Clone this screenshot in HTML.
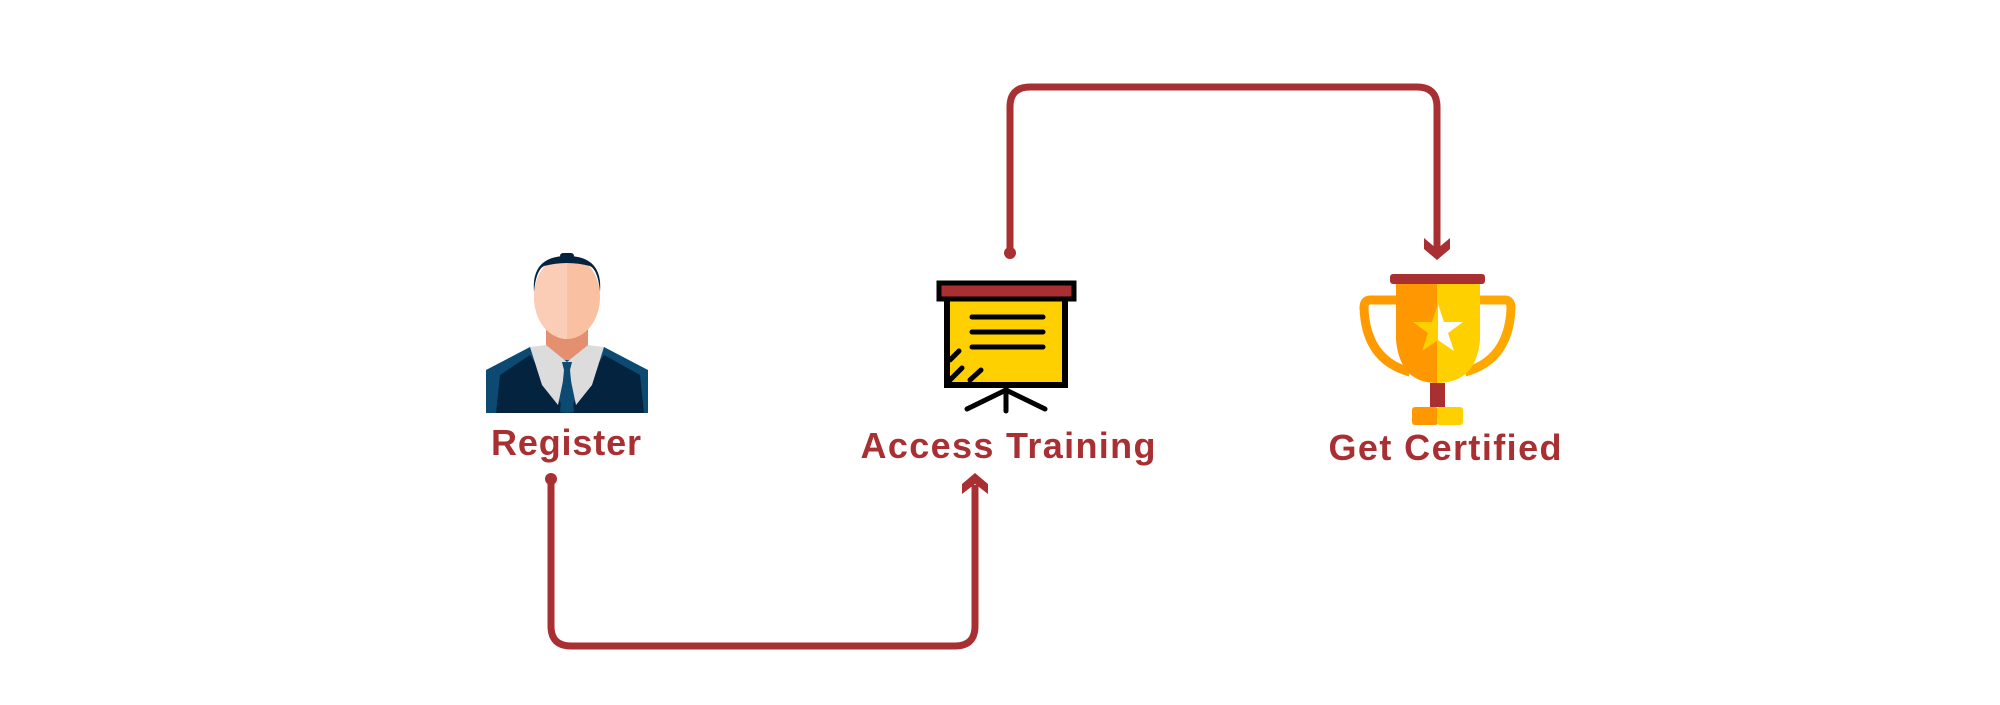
<!DOCTYPE html>
<html><head><style>
body{margin:0;width:2000px;height:700px;background:#fff;overflow:hidden}
svg text{font-family:"Liberation Sans",sans-serif;font-weight:bold;fill:#a83033}
</style></head><body>
<svg width="2000" height="700" viewBox="0 0 2000 700">
<g fill="none" stroke="#a83033" stroke-width="7">
<path d="M551 479 V626 Q551 646 571 646 H955 Q975 646 975 626 V485"/>
<path d="M1010 253 V107 Q1010 87 1030 87 H1417 Q1437 87 1437 107 V250"/>
</g>
<g fill="#a83033">
<circle cx="551" cy="479" r="6"/>
<circle cx="1010" cy="253" r="6"/>
<polygon points="975,473 988,484 988,494 975,484 962,494 962,484"/>
<polygon points="1437,260 1450,249 1450,238 1437,249 1424,238 1424,249"/>
</g>
<!-- person -->
<g>
<path d="M486 413 V370 L530 347 L604 347 L648 370 V413 Z" fill="#0d4a72"/>
<path d="M496 413 L500 375 L530 355 L567 413 L604 355 L640 375 L644 413 Z" fill="#04233f"/>
<rect x="546" y="325" width="42" height="35" fill="#e38f70"/>
<polygon points="530,347 546,345 567,362 558,405 542,385" fill="#dcdcdc"/>
<polygon points="604,347 588,345 567,362 576,405 592,385" fill="#dcdcdc"/>
<polygon points="562,362 572,362 570,370 574,412 567,413 560,412 564,370" fill="#0d4a72"/>
<ellipse cx="567" cy="297" rx="33" ry="42" fill="#f9c0a2"/>
<path d="M567 255 V339 A33 42 0 0 1 567 255" fill="#fbcdb6"/>
<path d="M534 292 Q531 256 567 256 Q603 256 600 292 Q598 270 590 266 Q567 260 544 266 Q536 270 534 292Z" fill="#04233f"/>
<rect x="560" y="253" width="14" height="6" rx="3" fill="#04233f"/>
</g>
<!-- board -->
<g>
<rect x="947" y="297" width="118" height="88" fill="#ffd000" stroke="#000" stroke-width="6"/>
<rect x="939" y="283" width="135" height="16" fill="#a83033" stroke="#000" stroke-width="5"/>
<g stroke="#000" stroke-width="5" stroke-linecap="round">
<line x1="972" y1="317" x2="1043" y2="317"/><line x1="972" y1="332" x2="1043" y2="332"/><line x1="972" y1="347" x2="1043" y2="347"/>
<line x1="950" y1="360" x2="959" y2="351"/><line x1="950" y1="380" x2="962" y2="368"/><line x1="970" y1="380" x2="981" y2="370"/>
<line x1="1006" y1="385" x2="1006" y2="411"/><line x1="967" y1="409" x2="1006" y2="390"/><line x1="1045" y1="409" x2="1006" y2="390"/>
</g>
</g>
<!-- trophy -->
<g>
<path d="M1400 300 H1370 Q1364 300 1364 308 Q1366 360 1410 372" fill="none" stroke="#ff9b00" stroke-width="9"/>
<path d="M1475 300 H1505 Q1511 300 1511 308 Q1509 360 1465 372" fill="none" stroke="#ffa800" stroke-width="9"/>
<path d="M1396 283 H1437 V383 Q1400 383 1396 340Z" fill="#ff9800"/>
<path d="M1437 283 H1480 V340 Q1476 383 1437 383Z" fill="#ffd000"/>
<rect x="1390" y="274" width="95" height="10" rx="3" fill="#a83033"/>
<polygon points="1438,304 1444,322 1463,322 1448,333 1454,351 1438,340 1422,351 1428,333 1413,322 1432,322" fill="#ffd000"/>
<polygon points="1438,304 1444,322 1463,322 1448,333 1454,351 1438,340" fill="#fff"/>
<rect x="1430" y="383" width="15" height="24" fill="#a83033"/>
<rect x="1412" y="407" width="26" height="18" rx="3" fill="#ff9800"/>
<rect x="1437" y="407" width="26" height="18" rx="3" fill="#ffd000"/>
</g>
<text x="566" y="455" font-size="36" text-anchor="middle" textLength="150">Register</text>
<text x="1008" y="458" font-size="36" text-anchor="middle" textLength="295">Access Training</text>
<text x="1445" y="460" font-size="36" text-anchor="middle" textLength="233">Get Certified</text>
</svg>
</body></html>
